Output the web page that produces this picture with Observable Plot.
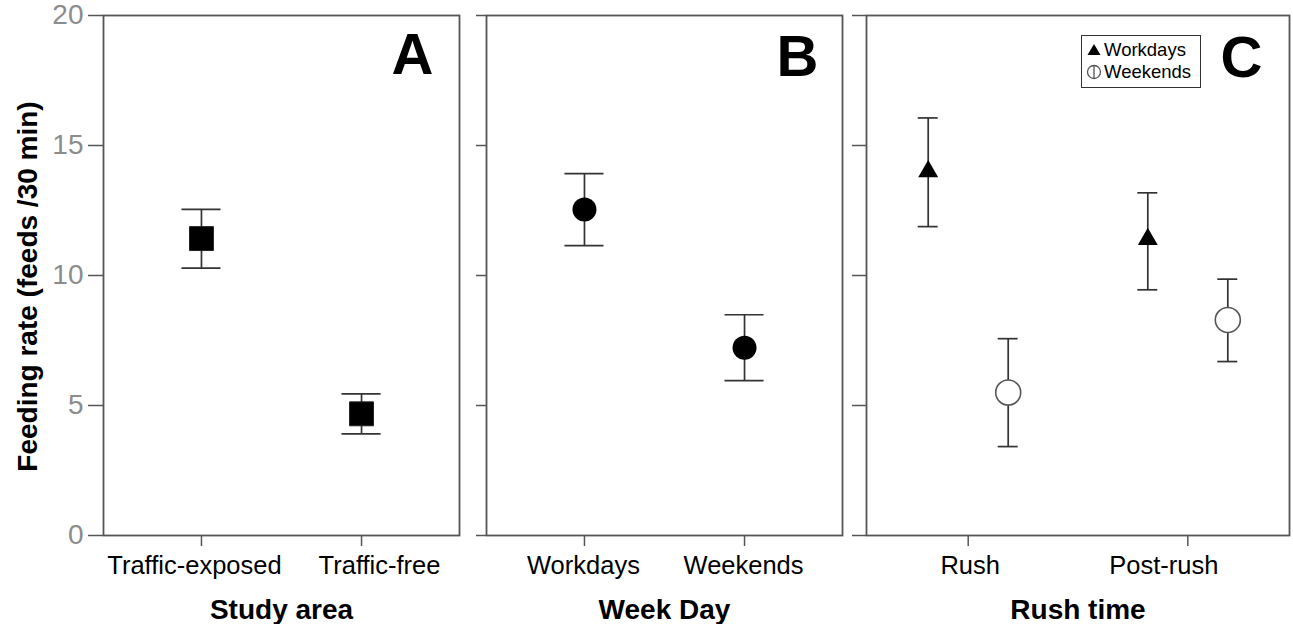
<!DOCTYPE html>
<html>
<head>
<meta charset="utf-8">
<script src="https://cdn.jsdelivr.net/npm/d3@7"></script>
<script src="https://cdn.jsdelivr.net/npm/@observablehq/plot@0.6"></script>
<style>
  html, body { margin: 0; padding: 0; background: #fff; }
  #wrap { position: relative; width: 1293px; height: 624px; overflow: hidden; font-family: "Liberation Sans", Arial, sans-serif; }
  .panel { position: absolute; top: 0; }
  .panel svg { display: block; }
  g[aria-label="y-axis tick label"] { fill: #8c8c8c; }
  #legend { position: absolute; left: 1081px; top: 35px; width: 120px; height: 53px; border: 1.3px solid #333; box-sizing: border-box; background: #fff; font-size: 18.5px; line-height: 22px; padding-top: 3px; }
  #legend .row { display: flex; align-items: center; height: 22px; }
  #legend svg { margin-left: 4px; margin-right: 2px; }
</style>
</head>
<body>
<div id="wrap">
  <div class="panel" id="pA" style="left:0px"></div>
  <div class="panel" id="pB" style="left:470px"></div>
  <div class="panel" id="pC" style="left:850px"></div>
  <div id="legend">
    <div class="row"><svg width="16" height="16" viewBox="-8 -8 16 16"><path d="M0,-6L6.5,5L-6.5,5Z" fill="#000"/></svg><span>Workdays</span></div>
    <div class="row"><svg width="16" height="16" viewBox="-8 -8 16 16"><circle r="6.5" fill="#fff" stroke="#555" stroke-width="1.3"/><line x1="0" x2="0" y1="-6.5" y2="6.5" stroke="#555" stroke-width="1.3"/></svg><span>Weekends</span></div>
  </div>
</div>
<script>
// ---- data ----
const yTicks = [0, 5, 10, 15, 20];
const yTitle = "Feeding rate (feeds /30 min)";

const areaCats = ["Traffic-exposed", "Traffic-free"];
const areaMean = [11.42, 4.68];
const areaLow = [10.28, 3.91];
const areaHigh = [12.54, 5.45];

const dayCats = ["Workdays", "Weekends"];
const dayMean = [12.54, 7.22];
const dayLow = [11.15, 5.96];
const dayHigh = [13.92, 8.49];

const rushCats = ["Rush", "Post-rush"];
const rushWorkMean = [14.0, 11.39];
const rushWorkLow = [11.88, 9.45];
const rushWorkHigh = [16.06, 13.18];
const rushWeekMean = [5.5, 8.29];
const rushWeekLow = [3.42, 6.69];
const rushWeekHigh = [7.57, 9.86];

const rows = (cats, mean, low, high) => cats.map((c, i) => ({cat: c, mean: mean[i], low: low[i], high: high[i]}));
const areaRows = rows(areaCats, areaMean, areaLow, areaHigh);
const dayRows = rows(dayCats, dayMean, dayLow, dayHigh);
const rushWorkRows = rows(rushCats, rushWorkMean, rushWorkLow, rushWorkHigh);
const rushWeekRows = rows(rushCats, rushWeekMean, rushWeekLow, rushWeekHigh);

const FONT = "'Liberation Sans', Arial, sans-serif";
const barStroke = "#333";
const barW = 1.7;

function errorMarks(data, dx = 0) {
  return [
    Plot.ruleX(data, {x: "cat", y1: "low", y2: "high", dx, stroke: barStroke, strokeWidth: barW}),
    Plot.tickY(data, {x: "cat", y: "low", dx, stroke: barStroke, strokeWidth: barW}),
    Plot.tickY(data, {x: "cat", y: "high", dx, stroke: barStroke, strokeWidth: barW})
  ];
}

function basePlot({width, marginLeft, marginRight, cats, labelDx, padIn, padOut, yTickSize, yLabels, xTitle, letter, letterDx, letterDy, marks}) {
  const extra = [];
  if (yLabels) {
    extra.push(Plot.axisY({ticks: yTicks, tickSize: yTickSize, tickPadding: 5, fontSize: 28, label: null, stroke: "#555", strokeWidth: 1.5}));
    extra.push(Plot.text([yTitle], {frameAnchor: "left", textAnchor: "middle", lineAnchor: "middle", rotate: -90, dx: -75, dy: 11, fontSize: 28, fontWeight: "bold", fill: "#000"}));
  } else {
    extra.push(Plot.axisY({ticks: yTicks, tickSize: yTickSize, tickFormat: () => "", label: null, stroke: "#555", strokeWidth: 1.5}));
  }
  const xLabels = cats.map((c, i) => Plot.axisX({ticks: [c], tickSize: 0, tickPadding: 20, fontSize: 25.5, label: null, dx: labelDx[i]}));
  return Plot.plot({
    width, height: 624,
    marginTop: 15, marginBottom: 89, marginLeft, marginRight,
    style: {fontFamily: FONT, background: "transparent", color: "#000"},
    x: {type: "band", domain: cats, paddingInner: padIn, paddingOuter: padOut, align: 0.5, round: false},
    y: {domain: [0, 20]},
    marks: [
      Plot.axisX({tickSize: 11, tickFormat: () => "", label: null, stroke: "#555", strokeWidth: 1.5}),
      ...xLabels,
      ...extra,
      Plot.text([xTitle], {frameAnchor: "bottom", lineAnchor: "bottom", dy: 83, fontSize: 28, fontWeight: "bold", fill: "#000"}),
      ...marks,
      Plot.text([letter], {frameAnchor: "top-right", lineAnchor: "top", dx: letterDx, dy: letterDy, fontSize: 58, fontWeight: "bold", fill: "#000"}),
      Plot.frame({stroke: "#555", strokeWidth: 1.8})
    ]
  });
}

const plotA = basePlot({
  width: 470, marginLeft: 103, marginRight: 11,
  cats: areaCats, labelDx: [-7, 18], padIn: 0.756, padOut: 0.49,
  yTickSize: 15, yLabels: true, xTitle: "Study area",
  letter: "A", letterDx: -26, letterDy: 17,
  marks: [
    ...errorMarks(areaRows),
    Plot.dot(areaRows, {x: "cat", y: "mean", symbol: "square", r: 13.5, fill: "#000", stroke: "#222", strokeWidth: 1})
  ]
});

const plotB = basePlot({
  width: 380, marginLeft: 16, marginRight: 8,
  cats: dayCats, labelDx: [-1, -1], padIn: 0.756, padOut: 0.49,
  yTickSize: 10, yLabels: false, xTitle: "Week Day",
  letter: "B", letterDx: -24, letterDy: 19,
  marks: [
    ...errorMarks(dayRows),
    Plot.dot(dayRows, {x: "cat", y: "mean", symbol: "circle", r: 12, fill: "#000"})
  ]
});

const plotC = basePlot({
  width: 443, marginLeft: 16, marginRight: 4,
  cats: rushCats, labelDx: [2, -24], padIn: 0.909, padOut: 0.4176,
  yTickSize: 14, yLabels: false, xTitle: "Rush time",
  letter: "C", letterDx: -27, letterDy: 20,
  marks: [
    ...errorMarks(rushWorkRows, -40),
    ...errorMarks(rushWeekRows, 40),
    Plot.dot(rushWorkRows, {x: "cat", y: "mean", dx: -40, symbol: "triangle", r: 7.4, fill: "#000"}),
    Plot.dot(rushWeekRows, {x: "cat", y: "mean", dx: 40, symbol: "circle", r: 12.5, fill: "#fff", stroke: "#555", strokeWidth: 1.6})
  ]
});

document.getElementById("pA").appendChild(plotA);
document.getElementById("pB").appendChild(plotB);
document.getElementById("pC").appendChild(plotC);
</script>
</body>
</html>
